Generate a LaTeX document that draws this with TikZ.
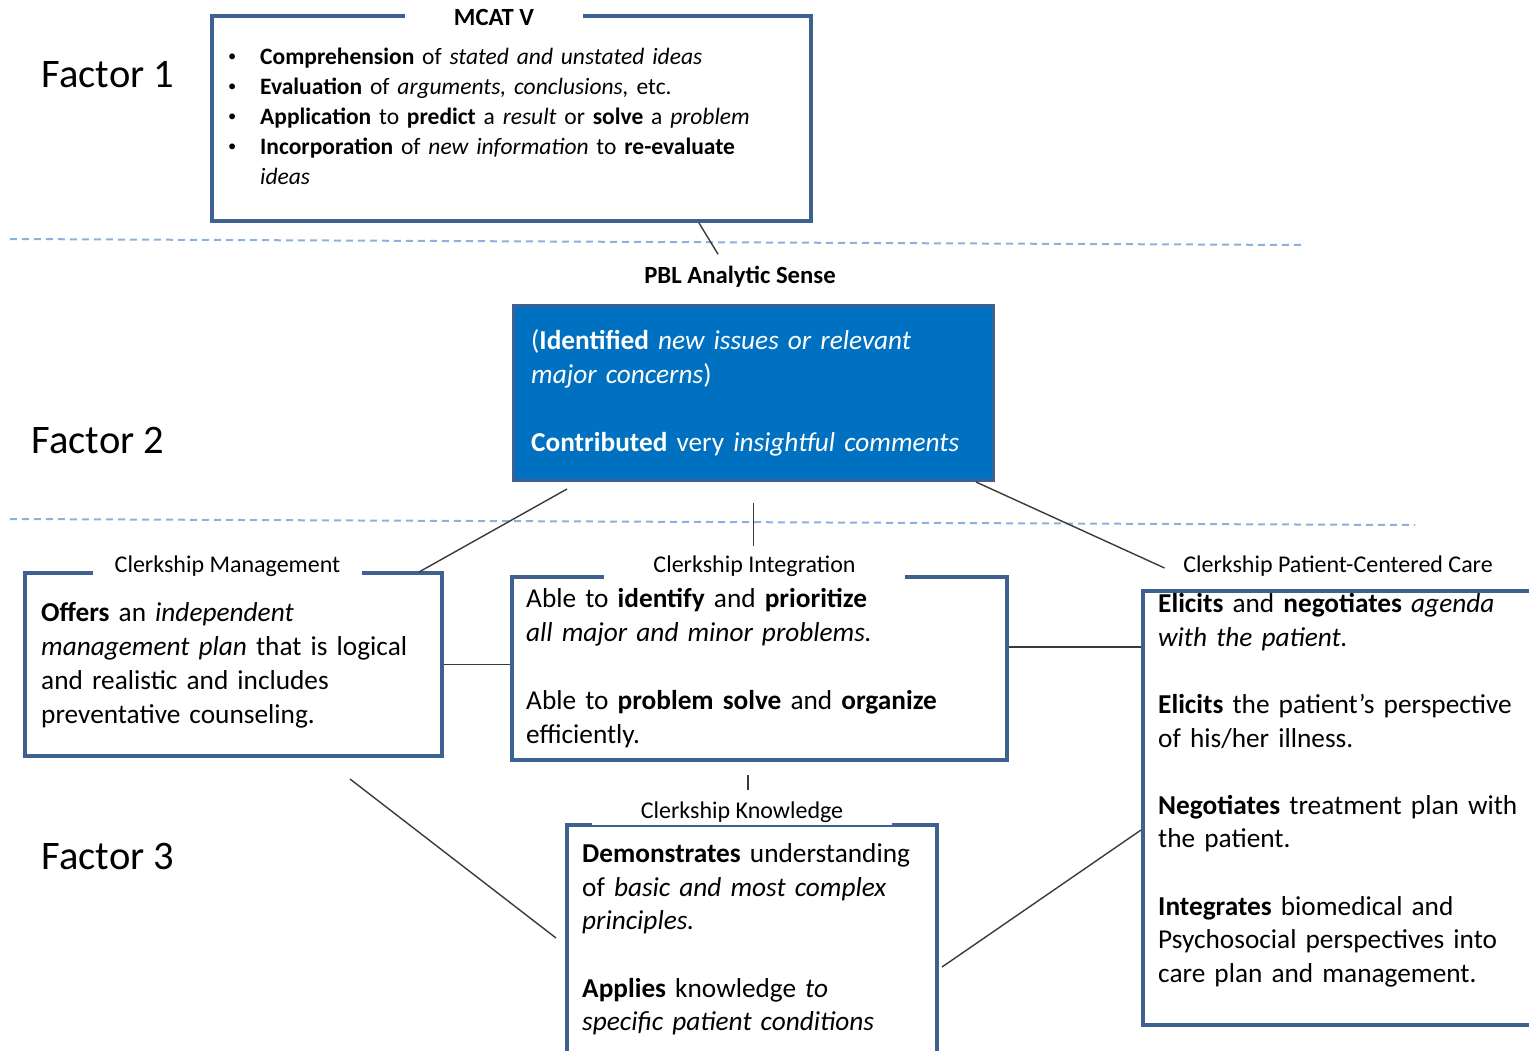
\documentclass[tikz,border=0pt]{standalone}
\usepackage{fontspec}
\setmainfont{Carlito}
\definecolor{framecol}{HTML}{3E6191}
\definecolor{fillblue}{HTML}{0070C0}
\definecolor{dashblue}{HTML}{8DB0DC}
\definecolor{linkgray}{HTML}{3A3A3A}
\newcommand{\smallbullet}{\makebox[32pt][l]{\raisebox{0.12em}{\scalebox{0.7}{\textbullet}}}}
\begin{document}
\begin{tikzpicture}[x=1pt,y=-1pt,
  framebox/.style={draw=framecol, line width=4pt, fill=white, inner sep=0pt, anchor=north west},
  bluebox/.style={draw=framecol, line width=3pt, fill=fillblue, inner sep=0pt, anchor=north west},
  body/.style={anchor=north west, inner sep=0pt, align=left, text width=520pt,
    font=\fontsize{27.3}{34}\selectfont},
  listbody/.style={anchor=north west, inner sep=0pt, align=left, text width=560pt,
    font=\fontsize{23.5}{30}\selectfont},
  boxtitle/.style={fill=white, inner xsep=0pt, inner ysep=3pt, font=\fontsize{24}{28}\selectfont},
  headtitle/.style={font=\fontsize{24.7}{29}\selectfont\bfseries},
  factor/.style={inner sep=0pt, font=\fontsize{40.5}{48}\selectfont},
  link/.style={draw=linkgray, line width=1.4pt},
  divider/.style={draw=dashblue, line width=2pt, dash pattern=on 7pt off 5pt}]
\useasboundingbox (0,0) rectangle (1529,1050);
\clip (0,0) rectangle (1529,1050);

% horizontal dashed dividers between the factor bands
\coordinate (d1a) at (10,239);
\coordinate (d1b) at (1303,245);
\coordinate (d2a) at (10,519);
\coordinate (d2b) at (1415,525);
\draw[divider] (d1a) -- (d1b);
\draw[divider] (d2a) -- (d2b);

% factor labels
\node[factor] (f1) at (108,75) {Factor 1};
\node[factor] (f2) at (98,440) {Factor 2};
\node[factor] (f3) at (108,856) {Factor 3};

% boxes (drawn as empty frames, text placed separately)
\node[framebox, minimum width=599pt, minimum height=205pt] (mcat) at (210,14) {};
\node[bluebox, minimum width=480pt, minimum height=175pt] (pbl) at (512,304) {};
\node[framebox, minimum width=417pt, minimum height=183pt] (mgmt) at (23,571) {};
\node[framebox, minimum width=495pt, minimum height=183pt] (integ) at (510,575) {};
\node[framebox, minimum width=404pt, minimum height=434pt] (pcc) at (1141,589) {};
\node[framebox, minimum width=370pt, minimum height=245pt] (know) at (565,823) {};

% titles sitting on (or above) the frames
\node[boxtitle, headtitle, minimum width=178pt] (mcatt) at (494,17) {MCAT V};
\node[inner sep=2pt, headtitle] (pblt) at (740,277) {PBL Analytic Sense};
\node[boxtitle, minimum width=269pt] (mgmtt) at (227.5,566) {Clerkship Management};
\node[boxtitle, minimum width=301pt] (integt) at (754.5,566) {Clerkship Integration};
\node[inner sep=2pt, font=\fontsize{24}{28}\selectfont] (pcct) at (1338,566) {Clerkship Patient-Centered Care};
\node[boxtitle, minimum width=300pt] (knowt) at (742,812) {Clerkship Knowledge};

% connectors
\draw[link] ([xshift=187.5pt]mcat.south) -- ([xshift=-22pt,yshift=10pt]pblt.north);
\draw[link] ([xshift=55pt,yshift=-7pt]pbl.south west) -- ([xshift=-25pt,yshift=-1pt]mgmt.north east);
\draw[link] ([yshift=-21pt]pbl.south) -- ([yshift=-64pt]pbl.south);
\draw[link] ([xshift=-19pt]pbl.south east) -- ([xshift=-16.5pt,yshift=-2pt]pcct.west);
\draw[link] (mgmt.east) -- (integ.west |- mgmt.east);
\draw[link] ([yshift=21.5pt]integ.east) coordinate (l6) -- (pcc.west |- l6);
\draw[link] ([xshift=6pt,yshift=23pt]knowt.north) -- ([xshift=6pt,yshift=8pt]knowt.north);
\draw[link] ([xshift=-94pt,yshift=-21pt]mgmt.south east) -- ([xshift=-9pt,yshift=-115pt]know.north west);
\draw[link] ([xshift=3pt,yshift=-144pt]know.north east) -- ([yshift=-241pt]pcc.north west);

% re-draw the top frame over the connector end
\node[framebox, fill=none, minimum width=599pt, minimum height=205pt] at (210,14) {};
\node[boxtitle, headtitle, minimum width=178pt] at (494,17) {MCAT V};

% box contents
\node[listbody] (mcattext) at (228,43) {\strut
  \smallbullet\textbf{Comprehension} of \textit{stated and unstated ideas}\\
  \smallbullet\textbf{Evaluation} of \textit{arguments, conclusions,} etc.\\
  \smallbullet\textbf{Application} to \textbf{predict} a \textit{result} or \textbf{solve} a \textit{problem}\\
  \smallbullet\textbf{Incorporation} of \textit{new information} to \textbf{re-evaluate}\\
  \hspace*{32pt}\textit{ideas}};

\node[body, text=white] (pbltext) at (531,325) {\strut
  (\textbf{Identified} \textit{new issues or relevant}\\
  \textit{major concerns})\\[34pt]
  \textbf{Contributed} very \textit{insightful comments}};

\node[body] (mgmttext) at (41,597) {\strut
  \textbf{Offers} an \textit{independent}\\
  \textit{management plan} that is logical\\
  and realistic and includes\\
  preventative counseling.};

\node[body] (integtext) at (526,583) {\strut
  Able to \textbf{identify} and \textbf{prioritize}\\
  \textit{all major and minor problems.}\\[34pt]
  Able to \textbf{problem solve} and \textbf{organize}\\
  efficiently.};

\node[body, font=\fontsize{27.3}{33.6}\selectfont] (pcctext) at (1158,589) {\strut
  \textbf{Elicits} and \textbf{negotiates} \textit{agenda}\\
  \textit{with the patient.}\\[33.6pt]
  \textbf{Elicits} the patient’s perspective\\
  of his/her illness.\\[33.6pt]
  \textbf{Negotiates} treatment plan with\\
  the patient.\\[33.6pt]
  \textbf{Integrates} biomedical and\\
  Psychosocial perspectives into\\
  care plan and management.};

\node[body, font=\fontsize{27.3}{33.6}\selectfont] (knowtext) at (582,839) {\strut
  \textbf{Demonstrates} understanding\\
  of \textit{basic and most complex}\\
  \textit{principles.}\\[33.6pt]
  \textbf{Applies} knowledge \textit{to}\\
  \textit{specific patient conditions}};
\end{tikzpicture}
\end{document}
